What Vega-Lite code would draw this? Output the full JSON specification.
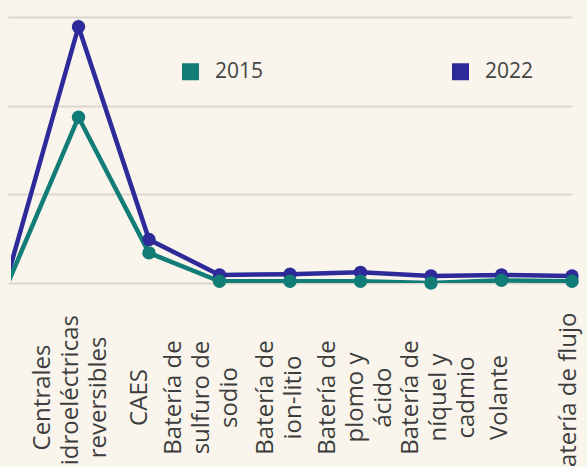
{
  "$schema": "https://vega.github.io/schema/vega-lite/v6.json",
  "width": 576,
  "height": 266,
  "autosize": {"type": "none"},
  "padding": {"left": 11, "top": 17, "right": 0, "bottom": 184},
  "background": "#f9f5ec",
  "config": {"view": {"stroke": null}, "font": "Open Sans"},
  "data": {
    "values": [
      {"tecnologia": "", "anio": "2022", "valor": 0.09},
      {"tecnologia": "Centrales hidroeléctricas reversibles", "anio": "2022", "valor": 2.89},
      {"tecnologia": "CAES", "anio": "2022", "valor": 0.49},
      {"tecnologia": "Batería de sulfuro de sodio", "anio": "2022", "valor": 0.09},
      {"tecnologia": "Batería de ion-litio", "anio": "2022", "valor": 0.1},
      {"tecnologia": "Batería de plomo y ácido", "anio": "2022", "valor": 0.12},
      {"tecnologia": "Batería de níquel y cadmio", "anio": "2022", "valor": 0.08},
      {"tecnologia": "Volante", "anio": "2022", "valor": 0.09},
      {"tecnologia": "Batería de flujo", "anio": "2022", "valor": 0.08},
      {"tecnologia": "", "anio": "2015", "valor": 0.0},
      {"tecnologia": "Centrales hidroeléctricas reversibles", "anio": "2015", "valor": 1.87},
      {"tecnologia": "CAES", "anio": "2015", "valor": 0.34},
      {"tecnologia": "Batería de sulfuro de sodio", "anio": "2015", "valor": 0.02},
      {"tecnologia": "Batería de ion-litio", "anio": "2015", "valor": 0.02},
      {"tecnologia": "Batería de plomo y ácido", "anio": "2015", "valor": 0.02},
      {"tecnologia": "Batería de níquel y cadmio", "anio": "2015", "valor": 0.0},
      {"tecnologia": "Volante", "anio": "2015", "valor": 0.03},
      {"tecnologia": "Batería de flujo", "anio": "2015", "valor": 0.02}
    ]
  },
  "encoding": {
    "x": {
      "field": "tecnologia",
      "type": "nominal",
      "sort": ["", "Centrales hidroeléctricas reversibles", "CAES", "Batería de sulfuro de sodio", "Batería de ion-litio", "Batería de plomo y ácido", "Batería de níquel y cadmio", "Volante", "Batería de flujo"],
      "scale": {"type": "point", "range": [-3, 561], "padding": 0},
      "axis": {
        "title": null,
        "labelExpr": "{'Centrales hidroeléctricas reversibles': ['Centrales', 'hidroeléctricas', 'reversibles'], 'Batería de sulfuro de sodio': ['Batería de', 'sulfuro de', 'sodio'], 'Batería de ion-litio': ['Batería de', 'ion-litio'], 'Batería de plomo y ácido': ['Batería de', 'plomo y', 'ácido'], 'Batería de níquel y cadmio': ['Batería de', 'níquel y', 'cadmio']}[datum.label] || datum.label",
        "labelAngle": -90,
        "labelAlign": "center",
        "labelBaseline": "middle",
        "labelPadding": 114,
        "labelOffset": {
          "condition": [
            {"test": "datum.value == 'Centrales hidroeléctricas reversibles'", "value": -36},
            {"test": "datum.value == 'CAES'", "value": -10},
            {"test": "datum.value == 'Batería de sulfuro de sodio'", "value": -46},
            {"test": "datum.value == 'Batería de ion-litio'", "value": -25},
            {"test": "datum.value == 'Batería de plomo y ácido'", "value": -33},
            {"test": "datum.value == 'Batería de níquel y cadmio'", "value": -21},
            {"test": "datum.value == 'Volante'", "value": -2}
          ],
          "value": -4
        },
        "ticks": false,
        "tickSize": 0,
        "domain": false,
        "grid": false,
        "labelFont": "Open Sans",
        "labelFontSize": 24,
        "labelLineHeight": 28,
        "labelColor": "#3d3d3d",
        "labelLimit": 0,
        "labelOverlap": false
      }
    },
    "y": {
      "field": "valor",
      "type": "quantitative",
      "scale": {"domain": [0, 3], "nice": false},
      "axis": {
        "title": null,
        "labels": false,
        "ticks": false,
        "domain": false,
        "values": [0, 1, 2, 3],
        "gridColor": "#dcd8cf",
        "gridWidth": 2
      }
    },
    "color": {
      "field": "anio",
      "type": "nominal",
      "scale": {"domain": ["2015", "2022"], "range": ["#127c76", "#2e2a99"]},
      "legend": {
        "title": null,
        "orient": "none",
        "legendX": 169,
        "legendY": 44,
        "direction": "horizontal",
        "symbolType": "square",
        "symbolSize": 289,
        "symbolStrokeWidth": 0,
        "labelFont": "Open Sans",
        "labelFontSize": 21,
        "labelColor": "#444444",
        "labelOffset": 14,
        "columnPadding": 186,
        "padding": 0,
        "encode": {
          "symbols": {
            "update": {
              "fill": {"scale": "color", "field": "value"},
              "stroke": {"value": "transparent"},
              "shape": {"value": "square"},
              "size": {"value": 289},
              "opacity": {"value": 1}
            }
          }
        }
      }
    }
  },
  "layer": [
    {"mark": {"type": "line", "strokeWidth": 4.5, "clip": true}},
    {
      "transform": [{"filter": "datum.tecnologia != ''"}],
      "mark": {"type": "circle", "size": 180, "opacity": 1}
    }
  ]
}
